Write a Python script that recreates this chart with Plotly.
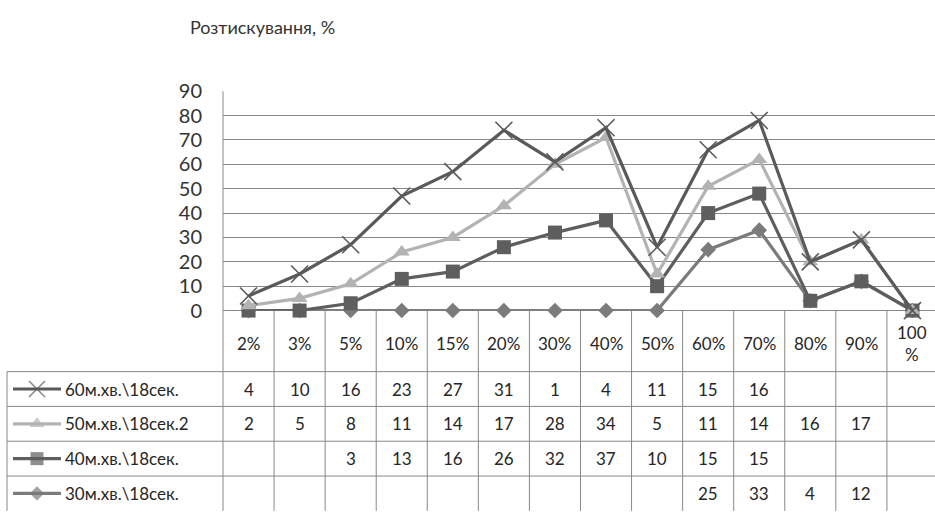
import numpy as np
import plotly.graph_objects as go

# Categories (press-off level) and the four series of the data table
categories = ["2%", "3%", "5%", "10%", "15%", "20%", "30%", "40%", "50%",
              "60%", "70%", "80%", "90%", "100%"]
s60 = [4, 10, 16, 23, 27, 31, 1, 4, 11, 15, 16, None, None, None]
s50 = [2, 5, 8, 11, 14, 17, 28, 34, 5, 11, 14, 16, 17, None]
s40 = [None, None, 3, 13, 16, 26, 32, 37, 10, 15, 15, None, None, None]
s30 = [None, None, None, None, None, None, None, None, None, 25, 33, 4, 12, None]

names = ["60м.хв.\\18сек.", "50м.хв.\\18сек.2", "40м.хв.\\18сек.", "30м.хв.\\18сек."]
series = [s60, s50, s40, s30]
y_ticks = [0, 10, 20, 30, 40, 50, 60, 70, 80, 90]
title_text = "Розтискування, %"

W, H = 935, 519
FONT = "Lato"
TXT = "#262626"
GRID = "#888888"

# styles per series (same order as names)
styles = [
    dict(color="#5a5a5a", symbol="x-thin-open", size=17, mline=1.6),
    dict(color="#b3b3b3", symbol="triangle-up", size=14, mline=0),
    dict(color="#5e5e5e", symbol="square", size=14, mline=0),
    dict(color="#7b7b7b", symbol="diamond", size=12, mline=0),
]

# plot area geometry in pixels
PL, PR, PT, PB = 223, W, 82, 312
COLW = 51.07
ncat = len(categories)
x = list(range(ncat))
xmax = -0.5 + (PR - PL) / COLW


def fy(p):  # pixel row -> paper y
    return 1 - p / H


def fx(p):  # pixel column -> paper x
    return p / W


fig = go.Figure()

# stacked lines: bottom of stack is the last series in the table
vals = [np.array([0 if v is None else v for v in s], dtype=float) for s in series]
cum = np.zeros(ncat)
stacked = {}
for i in reversed(range(len(series))):
    cum = cum + vals[i]
    stacked[i] = cum.copy()

for i in reversed(range(len(series))):
    st = styles[i]
    mk = dict(symbol=st["symbol"], size=st["size"], color=st["color"])
    mk["line"] = dict(width=st["mline"], color=st["color"])
    fig.add_trace(go.Scatter(
        x=x, y=stacked[i], mode="lines+markers", name=names[i],
        line=dict(color=st["color"], width=3.2), marker=mk,
        cliponaxis=False, showlegend=False, xaxis="x", yaxis="y"))

# legend keys inside the data table (pixel-space overlay axis)
row_edges = [376, 412.5, 449, 485.5, 522]
row_mid = [(row_edges[k] + row_edges[k + 1]) / 2 for k in range(4)]
for i in range(len(series)):
    st = styles[i]
    mk = dict(symbol=st["symbol"], color=st["color"])
    mk["line"] = dict(width=st["mline"], color=st["color"])
    fig.add_trace(go.Scatter(
        x=[13, 37, 61], y=[row_mid[i]] * 3, mode="lines+markers",
        line=dict(color=st["color"], width=3.2),
        marker=dict(mk, size=[0, st["size"] - 1, 0]),
        cliponaxis=False, showlegend=False, hoverinfo="skip",
        xaxis="x2", yaxis="y2"))

shapes = []
line_style = dict(color=GRID, width=1)
# vertical column dividers below the axis
for k in range(ncat + 1):
    xp = PL + k * COLW
    y0 = PT if k == 0 else PB
    shapes.append(dict(type="line", xref="paper", yref="paper",
                       x0=fx(xp), x1=fx(xp), y0=fy(y0), y1=fy(row_edges[-1]),
                       line=line_style, layer="below"))
# left border of the series rows
shapes.append(dict(type="line", xref="paper", yref="paper",
                   x0=fx(7), x1=fx(7), y0=fy(row_edges[0]), y1=fy(row_edges[-1]),
                   line=line_style, layer="below"))
# horizontal row borders
for r in row_edges[:-1]:
    shapes.append(dict(type="line", xref="paper", yref="paper",
                       x0=fx(7), x1=1, y0=fy(r), y1=fy(r), line=line_style, layer="below"))

annotations = []
# header row: category labels
for k, c in enumerate(categories):
    label = c if len(c) <= 3 else c[:-1] + "<br>" + c[-1]
    annotations.append(dict(x=k, y=fy(346), xref="x", yref="paper", text=label,
                            showarrow=False, font=dict(family=FONT, size=17, color=TXT),
                            xanchor="center", yanchor="middle"))
# series rows: names and values
for i, s in enumerate(series):
    annotations.append(dict(x=fx(63), y=fy(row_mid[i]), xref="paper", yref="paper",
                            text=names[i], showarrow=False,
                            font=dict(family=FONT, size=17, color=TXT),
                            xanchor="left", yanchor="middle"))
    for k, v in enumerate(s):
        if v is None:
            continue
        annotations.append(dict(x=k, y=fy(row_mid[i]), xref="x", yref="paper",
                                text=str(v), showarrow=False,
                                font=dict(family=FONT, size=17, color=TXT),
                                xanchor="center", yanchor="middle"))
# chart title
annotations.append(dict(x=fx(188), y=fy(15), xref="paper", yref="paper",
                        text=title_text, showarrow=False,
                        font=dict(family=FONT, size=18, color="#333333"),
                        xanchor="left", yanchor="middle"))

fig.update_layout(
    width=W, height=H, margin=dict(l=0, r=0, t=0, b=0),
    paper_bgcolor="white", plot_bgcolor="rgba(0,0,0,0)",
    showlegend=False, shapes=shapes, annotations=annotations,
    xaxis=dict(domain=[fx(PL), 1], range=[-0.5, xmax], showgrid=False,
               zeroline=False, showticklabels=False, showline=False, fixedrange=True),
    yaxis=dict(domain=[fy(PB), fy(PT)], range=[0, 90], tickvals=y_ticks,
               showgrid=True, gridcolor=GRID, gridwidth=1,
               zeroline=True, zerolinecolor=GRID, zerolinewidth=1,
               showline=False, ticks="", ticklabelstandoff=20,
               tickfont=dict(family=FONT, size=20, color="#333333"), fixedrange=True),
    xaxis2=dict(domain=[0, 1], range=[0, W], visible=False, anchor="y2", fixedrange=True),
    yaxis2=dict(domain=[0, 1], range=[H, 0], visible=False, anchor="x2", fixedrange=True),
)

fig.write_html("out.html")
